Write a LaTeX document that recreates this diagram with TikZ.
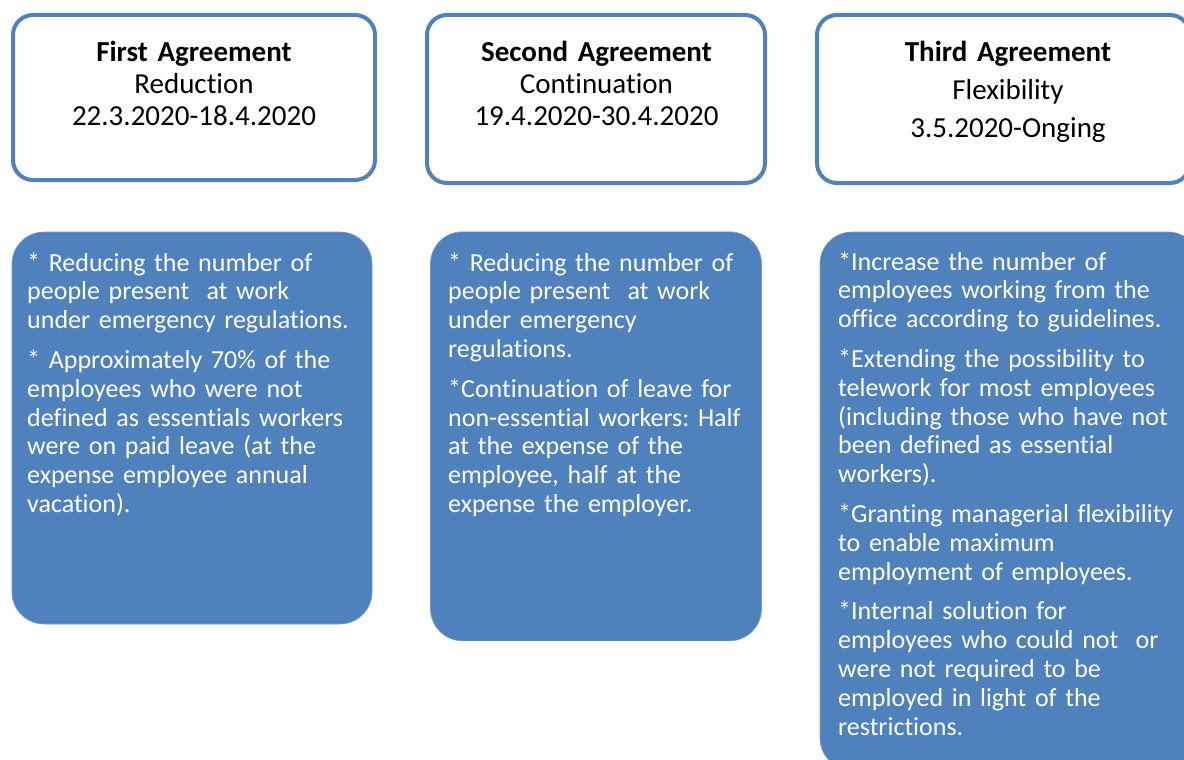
\documentclass[tikz,border=0pt]{standalone}
\usepackage{fontspec}
\setmainfont{Carlito}[Ligatures={NoCommon}]
\frenchspacing
\definecolor{acc}{HTML}{4F81BD}
\tikzset{
  headbox/.style={draw=acc, line width=4pt, fill=white, rounded corners=20pt, inner sep=0pt},
  bluebox/.style={fill=acc, draw=acc!80!white, line width=0.6pt, rounded corners=32pt, inner sep=0pt},
  headtext/.style={anchor=base, inner sep=0pt, align=center, text width=360pt,
    font=\fontsize{29}{32}\selectfont},
  bodytext/.style={anchor=base west, inner sep=0pt, align=left, text width=380pt, text=white,
    font=\fontsize{26}{28.8}\selectfont}
}
\begin{document}
\begin{tikzpicture}[x=1pt,y=-1pt]
\useasboundingbox (0,0) rectangle (1184,760);
\clip (0,0) rectangle (1184,760);
% header boxes
\node[headbox, minimum width=362pt, minimum height=165pt] (h1) at (194,97.5) {};
\node[headbox, minimum width=338pt, minimum height=168pt] (h2) at (596,99) {};
\node[headbox, minimum width=373pt, minimum height=168pt] (h3) at (1003.5,99) {};
% blue boxes
\node[bluebox, minimum width=360pt, minimum height=392pt] (b1) at (192,428) {};
\node[bluebox, minimum width=331pt, minimum height=409pt] (b2) at (596,436.3) {};
\node[bluebox, minimum width=380pt, minimum height=538pt] (b3) at (1010,501) {};
% header texts
\node[headtext] (t1) at (194,61.5) {\textbf{First Agreement}\\Reduction\\22.3.2020-18.4.2020};
\node[headtext] (t2) at (596.5,61.5) {\textbf{Second Agreement}\\Continuation\\19.4.2020-30.4.2020};
\node[headtext] (t3) at (1008,61.5) {\textbf{Third Agreement}\\[6pt]Flexibility\\[6pt]3.5.2020-Onging};
% body texts
\node[bodytext] (x1) at (27,271) {* Reducing the number of\\people present~ at work\\under emergency regulations.\\[11pt]* Approximately 70\% of the\\employees who were not\\defined as essentials workers\\were on paid leave (at the\\expense employee annual\\vacation).};
\node[bodytext] (x2) at (448,271) {* Reducing the number of\\people present~ at work\\under emergency\\regulations.\\[11pt]*Continuation of leave for\\non-essential workers: Half\\at the expense of the\\employee, half at the\\expense the employer.};
\node[bodytext] (x3) at (838,270) {*Increase the number of\\employees working from the\\office according to guidelines.\\[11pt]*Extending the possibility to\\telework for most employees\\(including those who have not\\been defined as essential\\workers).\\[11pt]*Granting managerial flexibility\\to enable maximum\\employment of employees.\\[11pt]*Internal solution for\\employees who could not~ or\\were not required to be\\employed in light of the\\restrictions.};
\end{tikzpicture}
\end{document}
